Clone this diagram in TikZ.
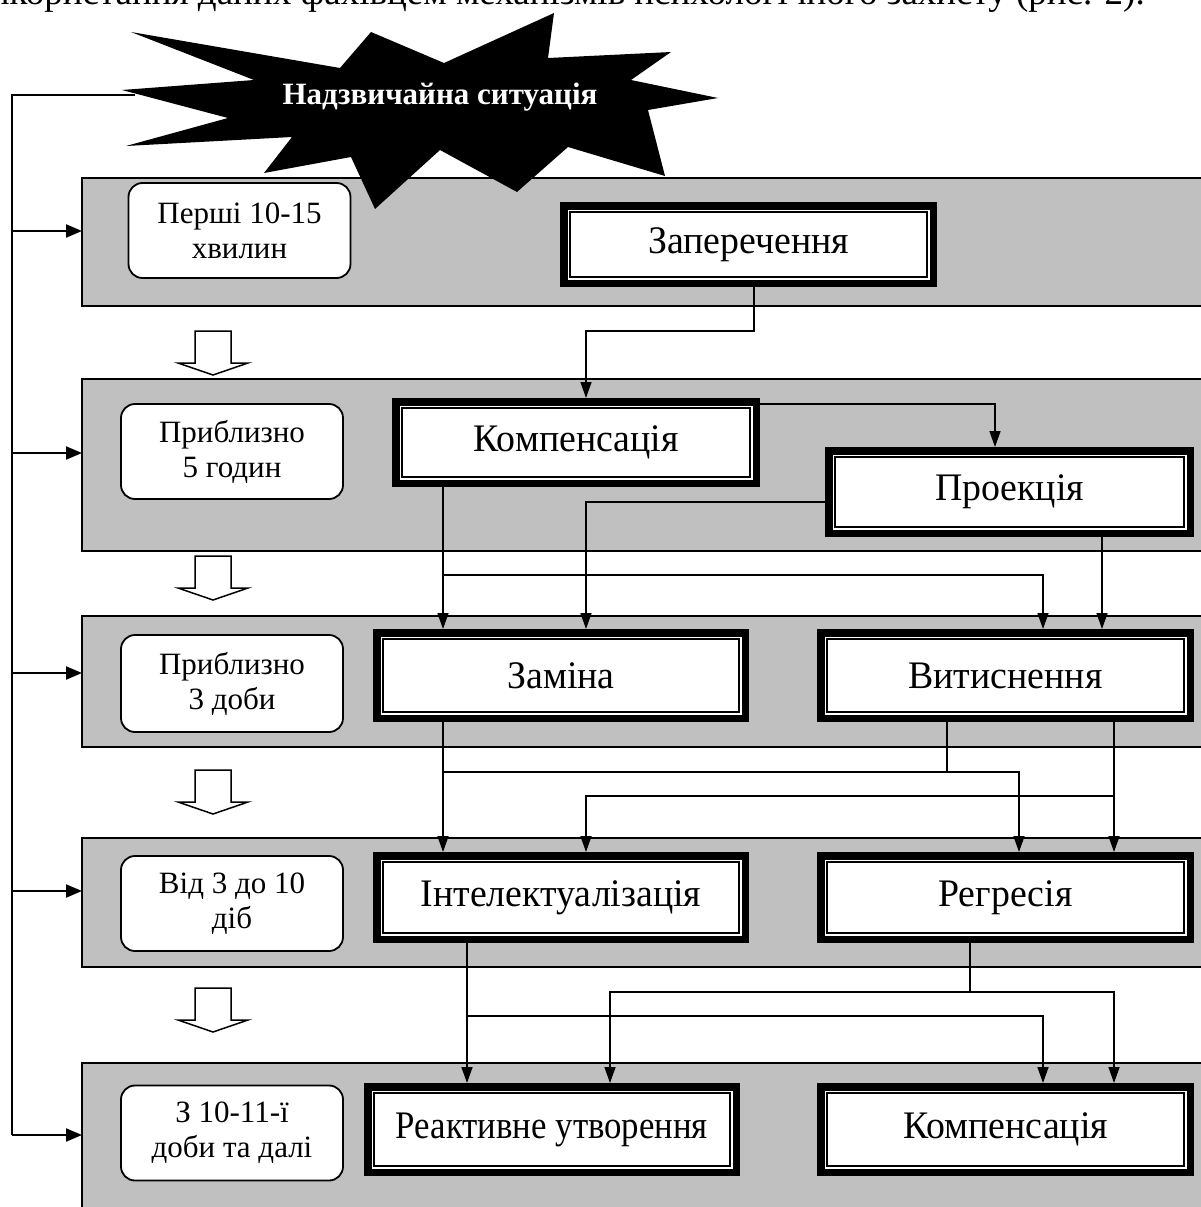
\documentclass[tikz,border=0pt]{standalone}
\usepackage{fontspec}
\usepackage{graphicx}
\setmainfont{Liberation Serif}
\newfontfamily\condf[FakeStretch=0.97]{Liberation Serif}
\usetikzlibrary{arrows.meta}
\definecolor{bandgray}{RGB}{192,192,192}
\tikzset{
  band/.style={draw, line width=1.8pt, fill=bandgray, anchor=north west, outer sep=0pt, inner sep=0pt},
  rbox/.style={draw, line width=1.8pt, fill=white, rounded corners=14pt, minimum width=222pt, minimum height=95pt, inner sep=0pt, align=center, font=\fontsize{31}{35}\selectfont},
  dbox/.style={draw, line width=1.4pt, fill=white, preaction={draw, line width=20pt}, preaction={draw=white, line width=5pt}, outer sep=10pt, inner sep=0pt, minimum width=356pt, minimum height=71pt, font=\condf\fontsize{39}{42}\selectfont},
  arr/.style={line width=1.5pt, -{Triangle[length=16pt,width=11pt]}},
  larr/.style={line width=2pt, -{Triangle[length=16pt,width=13pt]}},
  conn/.style={line width=1.5pt},
  hollow/.style={draw, line width=1.5pt, fill=white}
}
\newcommand\harrowat[1]{\draw[hollow] (195,-#1) -- (231,-#1) -- (231,-#1-32) -- (248,-#1-32) -- (213,-#1-44) -- (178,-#1-32) -- (195,-#1-32) -- cycle;}
\begin{document}
\begin{tikzpicture}[x=1pt,y=1pt]
\useasboundingbox (0,0) rectangle (1201,-1207);
\clip (0,0) rectangle (1201,-1207);
% top text line (cut off at the top edge, as in the reference)
\node[anchor=base east, inner sep=0pt, font=\fontsize{37}{40}\selectfont] (toptext) at (1145,-5) {використання даних фахівцем механізмів психологічного захисту (рис. 2).};
% bands
\node[band, minimum width=1135pt, minimum height=128pt] (b1) at (82,-178) {};
\node[band, minimum width=1135pt, minimum height=172pt] (b2) at (82,-379) {};
\node[band, minimum width=1135pt, minimum height=131pt] (b3) at (82,-616) {};
\node[band, minimum width=1135pt, minimum height=129pt] (b4) at (82,-838) {};
\node[band, minimum width=1135pt, minimum height=160pt] (b5) at (82,-1063) {};
% hollow arrows
\harrowat{331}
\harrowat{556}
\harrowat{770}
\harrowat{988}
% left feedback line
\coordinate (stl) at (135,-95);
\coordinate (lt) at (12,-95);
\coordinate (lb) at (12,-1135);
\draw[conn] (stl) -- (lt) -- (lb);
\draw[larr] (12,-231) -- (b1.west |- 0,-231);
\draw[larr] (12,-453) -- (b2.west |- 0,-453);
\draw[larr] (12,-673) -- (b3.west |- 0,-673);
\draw[larr] (12,-891) -- (b4.west |- 0,-891);
\draw[larr] (lb) -- (b5.west |- 0,-1135);
% star
\fill[black] (122,-90) -- (254,-80) -- (131,-32) -- (340,-68) -- (371,-32) -- (444,-63) -- (554,-13) -- (548,-58) -- (671,-52) -- (631,-80) -- (718,-98) -- (648,-110) -- (665,-176) -- (568,-147) -- (517,-192) -- (440,-150) -- (375,-209) -- (351,-157) -- (264,-173) -- (292,-137) -- (126,-146) -- (228,-118) -- cycle;
\node[text=white, font=\bfseries\fontsize{31}{34}\selectfont, inner sep=0pt] (star) at (440,-97) {Надзвичайна ситуація};
% time boxes
\node[rbox] (t1) at (239.5,-230.5) {Перші 10-15\\хвилин};
\node[rbox] (t2) at (232,-451.5) {Приблизно\\5 годин};
\node[rbox, minimum height=97pt] (t3) at (232,-683.5) {Приблизно\\3 доби};
\node[rbox] (t4) at (232,-903.5) {Від 3 до 10\\діб};
\node[rbox] (t5) at (232,-1133) {З 10-11-ї\\доби та далі};
% mechanism boxes
\node[dbox, minimum width=357pt, minimum height=65pt] (zap) at (748.5,-244.5) {Заперечення};
\node[dbox, minimum width=348pt, minimum height=69pt] (k1) at (576,-442.5) {Компенсація};
\node[dbox, minimum width=349pt, minimum height=70pt] (pr) at (1009.5,-492) {Проекція};
\node[dbox, minimum height=73pt] (zam) at (561,-675.5) {Заміна};
\node[dbox, minimum width=357pt, minimum height=73pt] (vyt) at (1005.5,-675.5) {Витиснення};
\node[dbox] (int) at (561,-897.5) {Інтелектуалізація};
\node[dbox, minimum width=357pt] (reg) at (1005.5,-897.5) {Регресія};
\node[dbox, minimum height=73pt] (rea) at (552,-1129.5) {\scalebox{0.92}[1]{Реактивне утворення}};
\node[dbox, minimum width=357pt, minimum height=73pt] (k2) at (1005.5,-1129.5) {Компенсація};
% connectors
\draw[arr] (754,0 |- zap.south) |- (586,-331) -- (586,0 |- k1.north);
\draw[arr] (k1.east |- 0,-404) -| (995,0 |- pr.north);
\draw[arr] (pr.west |- 0,-502) -| (586,0 |- zam.north);
\draw[arr] (443,0 |- k1.south) -- (443,0 |- zam.north);
\draw[arr] (443,-575) -| (1043,0 |- vyt.north);
\draw[arr] (1102,0 |- pr.south) -- (1102,0 |- vyt.north);
\draw[arr] (443,0 |- zam.south) -- (443,0 |- int.north);
\draw[arr] (443,-772) -| (1019,0 |- reg.north);
\draw[conn] (947,0 |- vyt.south) -- (947,-772);
\draw[arr] (1114,0 |- vyt.south) -- (1114,0 |- reg.north);
\draw[arr] (1114,-796) -| (586,0 |- int.north);
\draw[arr] (467,0 |- int.south) -- (467,0 |- rea.north);
\draw[arr] (467,-1016) -| (1043,0 |- k2.north);
\draw[conn] (970,0 |- reg.south) -- (970,-992);
\draw[arr] (970,-992) -| (610,0 |- rea.north);
\draw[arr] (970,-992) -| (1114,0 |- k2.north);
\end{tikzpicture}
\end{document}
